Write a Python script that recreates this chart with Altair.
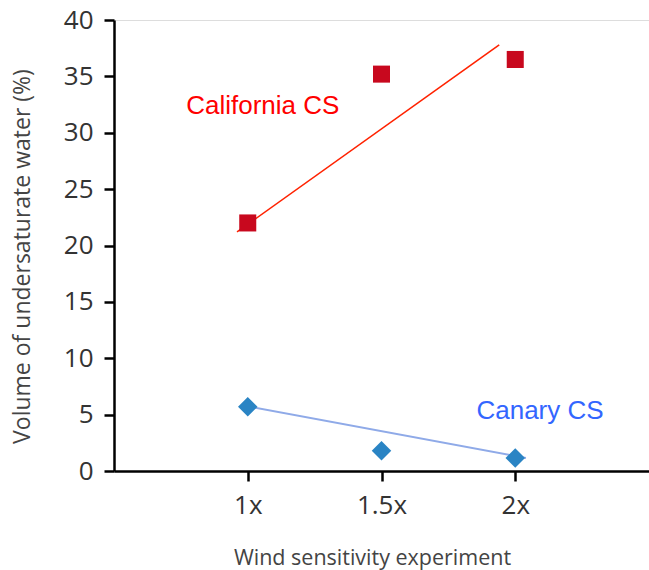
import altair as alt
import pandas as pd

# Data
experiments = [1.0, 1.5, 2.0]
tick_labels = ["1x", "1.5x", "2x"]
california = [22.0, 35.2, 36.5]
canary = [5.7, 1.8, 1.15]

cal_fit_x = [0.96, 1.94]
cal_fit_y = [21.2, 37.8]
can_fit_x = [1.01, 2.04]
can_fit_y = [5.7, 1.15]

labels_text = ["California CS", "Canary CS"]
labels_x = [0.77, 1.855]
labels_y = [32.4, 5.3]
labels_color = ["#ff0000", "#3366ff"]

df_cal = pd.DataFrame({"x": experiments, "y": california})
df_can = pd.DataFrame({"x": experiments, "y": canary})
df_cal_fit = pd.DataFrame({"x": cal_fit_x, "y": cal_fit_y})
df_can_fit = pd.DataFrame({"x": can_fit_x, "y": can_fit_y})
df_lab = pd.DataFrame({"x": labels_x, "y": labels_y, "t": labels_text, "c": labels_color})

label_expr = "datum.value == 1 ? '1x' : datum.value == 1.5 ? '1.5x' : datum.value == 2 ? '2x' : ''"

xscale = alt.Scale(domain=[0.5, 2.5], nice=False, zero=False)
yscale = alt.Scale(domain=[0, 40], nice=False)

xaxis = alt.Axis(
    values=experiments, labelExpr=label_expr, title="Wind sensitivity experiment",
    grid=False, domainColor="black", domainWidth=2.5, tickColor="black", tickWidth=2.5,
    tickSize=10, labelFont="Open Sans", labelFontSize=26, labelColor="#333333",
    labelPadding=11, titleFont="Open Sans", titleFontSize=21.5, titleFontWeight="normal",
    titleColor="#444444", titleX=258, titleY=93, titleAnchor="middle", titleAlign="center",
    titleBaseline="alphabetic",
)
yaxis = alt.Axis(
    values=[0, 5, 10, 15, 20, 25, 30, 35, 40], title="Volume of undersaturate water (%)",
    grid=False, domainColor="black", domainWidth=2.5, tickColor="black", tickWidth=2.5,
    tickSize=10, labelFont="Open Sans", labelFontSize=26, labelColor="#333333",
    labelPadding=11, titleFont="Open Sans", titleFontSize=23, titleFontWeight="normal",
    titleColor="#444444", titleX=-92, titleY=236, titleAngle=-90, titleAlign="center",
    titleBaseline="middle",
)

base_x = alt.X("x:Q", scale=xscale, axis=xaxis)
base_y = alt.Y("y:Q", scale=yscale, axis=yaxis)

cal_fit = alt.Chart(df_cal_fit).mark_line(color="#ff2200", strokeWidth=1.6).encode(
    x=alt.X("x:Q", scale=xscale), y=alt.Y("y:Q", scale=yscale))
can_fit = alt.Chart(df_can_fit).mark_line(color="#8faae8", strokeWidth=2).encode(
    x=alt.X("x:Q", scale=xscale), y=alt.Y("y:Q", scale=yscale))
cal_pts = alt.Chart(df_cal).mark_point(shape="square", filled=True, size=290, opacity=1,
                                       color="#c8081e").encode(x=base_x, y=base_y)
can_pts = alt.Chart(df_can).mark_point(shape="diamond", filled=True, size=380, opacity=1,
                                       color="#2a84c4").encode(
    x=alt.X("x:Q", scale=xscale), y=alt.Y("y:Q", scale=yscale))
labels = alt.Chart(df_lab).mark_text(font="Liberation Sans", fontSize=26, align="left",
                                     baseline="middle").encode(
    x=alt.X("x:Q", scale=xscale), y=alt.Y("y:Q", scale=yscale),
    text="t:N", color=alt.Color("c:N", scale=None))

chart = alt.layer(can_fit, cal_fit, cal_pts, can_pts, labels).properties(
    width=535, height=451,
    autosize=alt.AutoSizeParams(type="none"),
    padding={"left": 114, "top": 20, "right": 0, "bottom": 99},
).configure_view(fill="#f5f5f5", stroke=None).configure(background="white")

chart.save("out.html", embed_options={"renderer": "svg", "actions": False})
